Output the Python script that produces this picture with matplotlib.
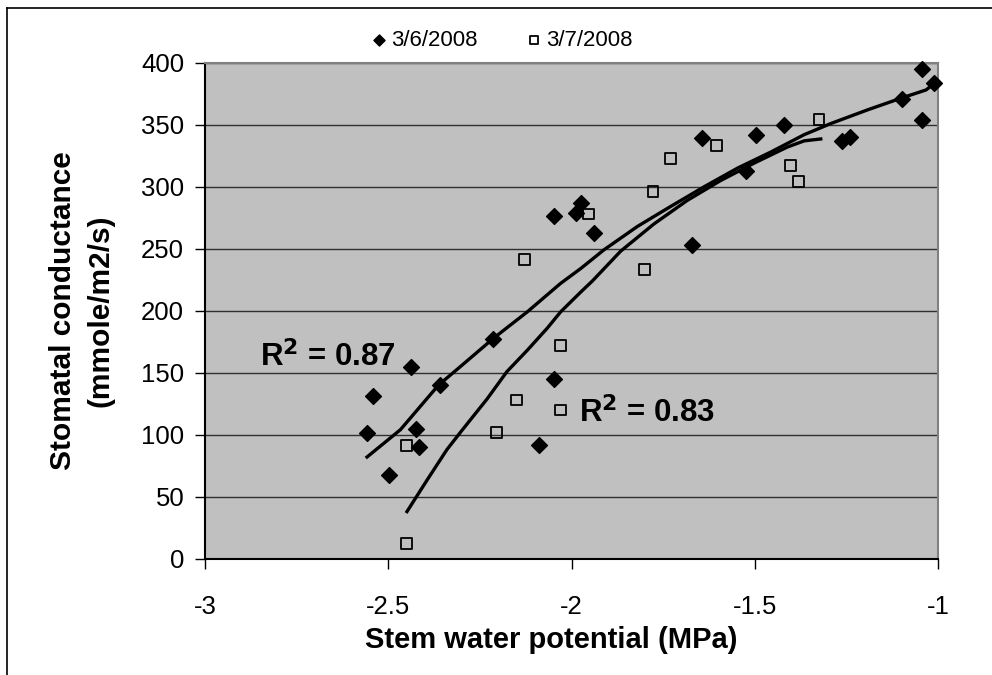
import numpy as np
import matplotlib
matplotlib.use("Agg")
import matplotlib.pyplot as plt
from matplotlib.lines import Line2D

plt.rcParams['font.family'] = ['Liberation Sans', 'DejaVu Sans']
plt.rcParams['axes.unicode_minus'] = False

# --- data: 3/6/2008 (diamonds) ---
swp_0306 = [-2.557, -2.542, -2.497, -2.438, -2.425, -2.415, -2.360, -2.214, -2.048, -2.088,
            -2.048, -1.989, -1.973, -1.939, -1.672, -1.644, -1.525, -1.496, -1.420, -1.262,
            -1.240, -1.097, -1.043, -1.010, -1.043]
gs_0306 = [101, 131, 67.5, 155, 105, 90, 140, 177, 145, 92,
           276, 279, 287, 263, 253, 339, 313, 342, 350, 337,
           340, 370.5, 395, 384, 354]

# --- data: 3/7/2008 (open squares) ---
swp_0307 = [-2.451, -2.451, -2.205, -2.150, -2.030, -2.030, -2.128, -1.953, -1.800, -1.778,
            -1.729, -1.604, -1.402, -1.380, -1.325]
gs_0307 = [91, 12.4, 102, 128, 120, 172, 241, 278, 233, 296,
           323, 333, 317, 304, 354]

# --- trendlines as drawn in the chart ---
trend_x_0306 = [-2.558, -2.467, -2.363, -2.303, -2.212, -2.121, -2.030, -1.975, -1.912,
                -1.820, -1.730, -1.638, -1.547, -1.456, -1.365, -1.292, -1.192, -1.100,
                -1.033, -1.011]
trend_y_0306 = [82, 104, 140, 155, 178, 199, 222, 234, 249,
                268, 284, 300, 315, 328, 342, 351, 362, 371.5,
                378, 383]
trend_x_0307 = [-2.449, -2.394, -2.340, -2.303, -2.230, -2.176, -2.121, -2.066, -2.030,
                -1.975, -1.943, -1.866, -1.775, -1.684, -1.593, -1.502, -1.411, -1.365,
                -1.320]
trend_y_0307 = [38, 63.5, 88, 102, 129, 151, 168, 186, 199,
                215, 224, 248, 270, 289, 305, 319, 332, 337,
                338.5]

r2_labels = ["R$^\\mathbf{2}$ = 0.87", "R$^\\mathbf{2}$ = 0.83"]
series_names = ["3/6/2008", "3/7/2008"]

fig = plt.figure(figsize=(9.92, 6.75), dpi=100)
ax = fig.add_axes([0.2067, 0.1723, 0.7389, 0.7348])
ax.set_facecolor('#C0C0C0')

ax.plot(trend_x_0306, trend_y_0306, color='black', lw=2.4, zorder=3, solid_joinstyle='round')
ax.plot(trend_x_0307, trend_y_0307, color='black', lw=2.4, zorder=3, solid_joinstyle='round')
ax.scatter(swp_0306, gs_0306, marker='D', s=65, color='black', zorder=4,
           label=series_names[0], clip_on=False)
ax.scatter(swp_0307, gs_0307, marker='s', s=60, facecolor='none', edgecolor='black',
           linewidths=1.3, zorder=4, label=series_names[1], clip_on=False)

ax.set_xlim(-3, -1)
ax.set_ylim(0, 400)
ax.set_xticks([-3, -2.5, -2, -1.5, -1])
ax.set_xticklabels(['-3', '-2.5', '-2', '-1.5', '-1'])
ax.set_yticks(np.arange(0, 401, 50))
ax.yaxis.grid(True, color='#303030', lw=1)
ax.set_axisbelow(True)
ax.tick_params(axis='both', direction='out', length=7, width=1, labelsize=18.5, color='black')
ax.tick_params(axis='x', pad=19)
ax.tick_params(axis='y', pad=8)

for side in ['left', 'bottom']:
    ax.spines[side].set_color('black')
    ax.spines[side].set_linewidth(1.5)
for side in ['top', 'right']:
    ax.spines[side].set_color('#808080')
    ax.spines[side].set_linewidth(1.5)

ax.set_xlabel("Stem water potential (MPa)", fontsize=21, fontweight='bold')
ax.xaxis.set_label_coords(0.472, -0.136)
ax.set_ylabel("Stomatal conductance\n(mmole/m2/s)", fontsize=21.5, fontweight='bold',
              linespacing=1.45)
ax.yaxis.set_label_coords(-0.123, 0.5)

ax.text(-2.85, 155, r2_labels[0], fontsize=22.5, fontweight='bold', ha='left', va='baseline')
ax.text(-1.98, 110, r2_labels[1], fontsize=22.5, fontweight='bold', ha='left', va='baseline')

ax.legend(loc='center', bbox_to_anchor=(0.405, 1.045), ncol=2, frameon=False,
          fontsize=16, handlelength=0.7, handletextpad=0.2, columnspacing=2.2,
          markerscale=0.7, borderaxespad=0)

# outer chart frame (top and left edges visible)
fig.add_artist(Line2D([7 / 992, 1], [1 - 8 / 675, 1 - 8 / 675], color='black', lw=1.2))
fig.add_artist(Line2D([7 / 992, 7 / 992], [0, 1 - 8 / 675], color='black', lw=1.2))

fig.savefig("out.png", dpi=100)
